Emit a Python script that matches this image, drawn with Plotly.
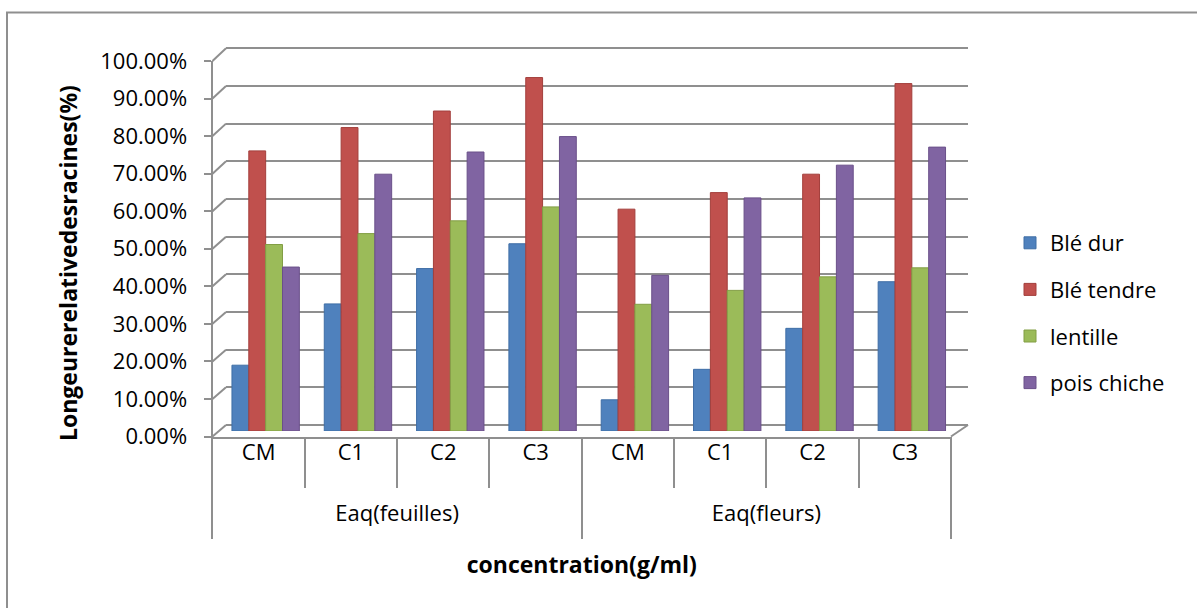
import plotly.graph_objects as go

# ---------------- data ----------------
groups = ["Eaq(feuilles)", "Eaq(fleurs)"]
concentrations = ["CM", "C1", "C2", "C3"]
series_names = ["Blé dur", "Blé tendre", "lentille", "pois chiche"]

ble_dur = [17.5, 33.8, 43.2, 49.8, 8.3, 16.4, 27.3, 39.7]
ble_tendre = [74.5, 80.7, 85.1, 94.0, 59.0, 63.4, 68.3, 92.4]
lentille = [49.6, 52.5, 55.9, 59.6, 33.7, 37.4, 41.0, 43.4]
pois_chiche = [43.6, 68.3, 74.2, 78.3, 41.4, 62.0, 70.7, 75.5]

y_ticks = [0, 10, 20, 30, 40, 50, 60, 70, 80, 90, 100]
y_tick_labels = [f"{v:.2f}%" for v in y_ticks]
y_title = "Longeurerelativedesracines(%)"
x_title = "concentration(g/ml)"

colors = ["#4F81BD", "#C0504D", "#9BBB59", "#8064A2"]
edge_colors = ["#3F6EA6", "#A33F3C", "#829E45", "#6A5089"]
grid_col = "#8F8F8F"
FONT = "Open Sans"
FS = 22
FS_TITLE = 23

# ---------------- geometry helpers ----------------
W, H = 1197, 608


def px(x):
    return x / W


def py(y):
    return 1 - y / H


def ext(lo_val, hi_val, lo_px, hi_px, e):
    """extend a value range by e units on both sides, returning new range and pixel ends"""
    s = (hi_px - lo_px) / (hi_val - lo_val)
    return [lo_val - e, hi_val + e], lo_px - e * s, hi_px + e * s


x_groups = [g for g in groups for _ in concentrations]
x_concs = [c for _ in groups for c in concentrations]
n = len(x_concs)

# front (axis) frame, back wall, bars
FRONT_L, FRONT_R, FRONT_B, FRONT_T = 212.5, 951.0, 436.5, 61.0
BACK_L, BACK_R, BACK_B, BACK_T = 226.0, 968.0, 425.0, 48.3
BAR_L, BAR_R, BAR_B, BAR_T = 219.5, 958.0, 431.0, 55.0

fig = go.Figure()

# back wall grid subplot (x / y)
fig.add_trace(go.Scatter(x=[0, 1], y=[None, None], xaxis="x", yaxis="y",
                         showlegend=False, hoverinfo="skip"))

# bars (x2 / y2)
for name, vals, col, ec in zip(series_names,
                               [ble_dur, ble_tendre, lentille, pois_chiche],
                               colors, edge_colors):
    fig.add_trace(go.Bar(x=[x_groups, x_concs], y=vals, name=name,
                         marker=dict(color=col, line=dict(color=ec, width=1)),
                         xaxis="x2", yaxis="y2", legendgroup=name))

# front value axis (x3 / y3)
fig.add_trace(go.Scatter(x=[0], y=[None], xaxis="x3", yaxis="y3",
                         showlegend=False, hoverinfo="skip"))
# concentration labels + boundaries (x4 / y4)
fig.add_trace(go.Scatter(x=[0], y=[None], xaxis="x4", yaxis="y4",
                         showlegend=False, hoverinfo="skip"))
# group labels + dividers (x5 / y5)
fig.add_trace(go.Scatter(x=[0], y=[None], xaxis="x5", yaxis="y5",
                         showlegend=False, hoverinfo="skip"))

yg_range, yg_b, yg_t = ext(y_ticks[0], y_ticks[-1], BACK_B, BACK_T, 0.6)
xc_range, xc_l, xc_r = ext(-0.5, n - 0.5, FRONT_L, FRONT_R, 0.1)

conc_bounds = [i - 0.5 for i in range(n + 1)]
group_bounds = [gi * len(concentrations) - 0.5 for gi in range(len(groups) + 1)]
group_centers = [gi * len(concentrations) + (len(concentrations) - 1) / 2
                 for gi in range(len(groups))]

tick_font = dict(family=FONT, size=FS, color="#000000")
title_font = dict(family=FONT, size=FS_TITLE, weight="bold", color="#000000")

fig.update_layout(
    width=W, height=H,
    margin=dict(l=0, r=0, t=0, b=0, autoexpand=False),
    paper_bgcolor="white", plot_bgcolor="rgba(0,0,0,0)",
    barmode="group", bargap=0.27, bargroupgap=0,
    hovermode=False,
    font=dict(family=FONT, color="#000000"),
    xaxis=dict(domain=[px(BACK_L), px(BACK_R)], range=[0, 1], visible=False),
    yaxis=dict(domain=[py(yg_b), py(yg_t)], range=yg_range,
               tickmode="array", tickvals=y_ticks, showgrid=True,
               gridcolor=grid_col, gridwidth=2, showticklabels=False,
               zeroline=False, showline=False, ticks=""),
    xaxis2=dict(domain=[px(BAR_L), px(BAR_R)], range=[-0.5, n - 0.5],
                showticklabels=False, showgrid=False, showline=False,
                ticks="", anchor="y2", showdividers=False),
    yaxis2=dict(domain=[py(BAR_B), py(BAR_T)], range=[y_ticks[0], y_ticks[-1]],
                visible=False, anchor="x2"),
    xaxis3=dict(domain=[px(FRONT_L), px(FRONT_R)], range=[-0.5, n - 0.5],
                showline=True, linecolor=grid_col, linewidth=2,
                showticklabels=False, ticks="", showgrid=False,
                zeroline=False, anchor="y3"),
    yaxis3=dict(domain=[py(FRONT_B), py(FRONT_T)], range=[y_ticks[0], y_ticks[-1]],
                tickmode="array", tickvals=y_ticks, ticktext=y_tick_labels,
                ticks="outside", ticklen=7, tickwidth=2,
                tickcolor=grid_col, showline=True, linecolor=grid_col,
                linewidth=2, showgrid=False, zeroline=False, anchor="x3",
                tickfont=tick_font, ticklabelstandoff=12),
    xaxis4=dict(domain=[px(xc_l), px(xc_r)], range=xc_range,
                anchor="free", position=py(FRONT_B),
                tickmode="array", tickvals=list(range(n)), ticktext=x_concs,
                ticks="", showgrid=False, zeroline=False, showline=False,
                tickfont=tick_font, ticklabelstandoff=0,
                minor=dict(tickmode="array", tickvals=conc_bounds,
                           showgrid=True, gridcolor=grid_col, gridwidth=2,
                           ticks="")),
    yaxis4=dict(domain=[py(488), py(FRONT_B)], range=[0, 1], visible=False,
                anchor="x4"),
    xaxis5=dict(domain=[px(xc_l), px(xc_r)], range=xc_range,
                anchor="free", position=py(FRONT_B),
                tickmode="array", tickvals=group_centers, ticktext=groups,
                ticks="", showgrid=False, zeroline=False, showline=False,
                tickfont=tick_font, ticklabelstandoff=61,
                minor=dict(tickmode="array", tickvals=group_bounds,
                           showgrid=True, gridcolor=grid_col, gridwidth=2,
                           ticks=""),
                title=dict(text=x_title, standoff=31, font=title_font)),
    yaxis5=dict(domain=[py(539), py(FRONT_B)], range=[0, 1], visible=False,
                anchor="x5"),
    legend=dict(x=px(1010), y=py(313), xanchor="left", yanchor="middle",
                font=dict(family=FONT, size=FS, color="#000000"),
                tracegroupgap=15, bgcolor="rgba(0,0,0,0)",
                traceorder="grouped"),
    annotations=[dict(text=y_title, xref="paper", yref="paper",
                      x=px(68), y=py(263), textangle=-90, showarrow=False,
                      xanchor="center", yanchor="middle", font=title_font)],
)

# perspective connectors between the front value axis and the back wall
shapes = []
fs = (FRONT_B - FRONT_T) / (y_ticks[-1] - y_ticks[0])
bs = (BACK_B - BACK_T) / (y_ticks[-1] - y_ticks[0])
for v in y_ticks:
    shapes.append(dict(type="line", xref="paper", yref="paper",
                       x0=px(FRONT_L), y0=py(FRONT_B - v * fs),
                       x1=px(BACK_L), y1=py(BACK_B - v * bs),
                       line=dict(color=grid_col, width=2)))
# right edge of the floor
shapes.append(dict(type="line", xref="paper", yref="paper",
                   x0=px(FRONT_R), y0=py(FRONT_B), x1=px(BACK_R), y1=py(BACK_B),
                   line=dict(color=grid_col, width=2)))
# chart border
shapes.append(dict(type="rect", xref="paper", yref="paper",
                   x0=px(7), y0=py(12.5), x1=px(1215), y1=py(630),
                   line=dict(color=grid_col, width=2), layer="below"))
fig.update_layout(shapes=shapes)

fig.write_html("out.html",
               config={"displayModeBar": False},
               post_script="document.body.style.margin='0px';"
                           "document.body.style.overflow='hidden';")
